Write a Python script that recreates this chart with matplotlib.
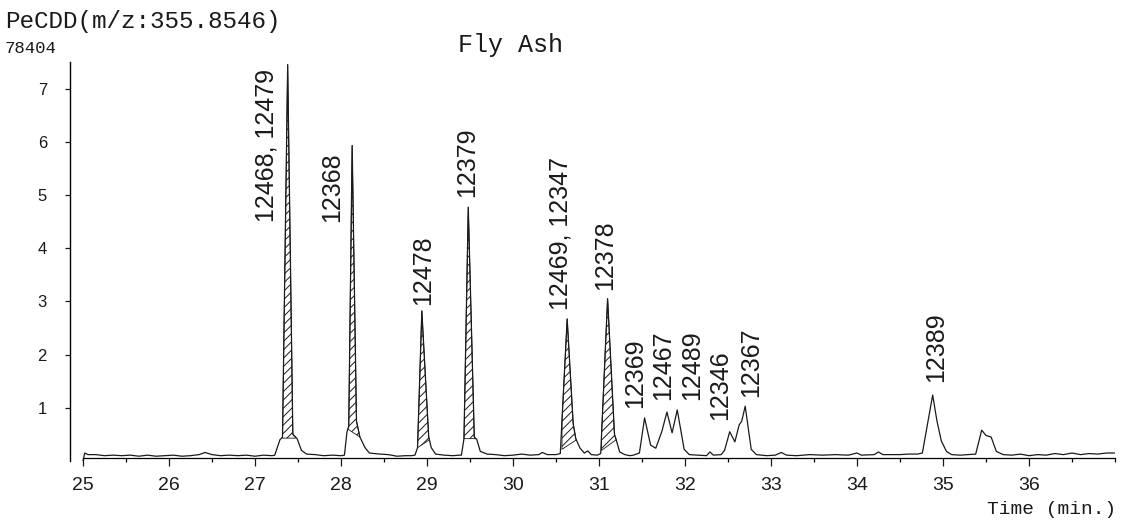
import numpy as np
import matplotlib
matplotlib.use("Agg")
import matplotlib.pyplot as plt
from matplotlib.ticker import MultipleLocator

tempo = [25.00, 25.02, 25.06, 25.15, 25.25, 25.35, 25.45, 25.55, 25.65, 25.75,
         25.85, 25.95, 26.05, 26.15, 26.25, 26.35, 26.42, 26.50, 26.60, 26.70,
         26.80, 26.90, 27.00, 27.10, 27.20,
         27.23, 27.29, 27.32, 27.38, 27.44, 27.49, 27.54, 27.60, 27.70, 27.80,
         27.90, 28.00,
         28.04, 28.07, 28.09, 28.13, 28.18, 28.22, 28.28, 28.33, 28.45, 28.55,
         28.65, 28.75, 28.82,
         28.86, 28.89, 28.94, 29.02, 29.05, 29.10, 29.20, 29.30, 29.38,
         29.40, 29.43, 29.48, 29.55, 29.58, 29.62, 29.70, 29.80, 29.90, 30.00,
         30.10, 30.20, 30.30, 30.34, 30.40, 30.50,
         30.55, 30.63, 30.70, 30.73, 30.78, 30.83, 30.87, 30.91, 30.98,
         31.02, 31.10, 31.18, 31.20, 31.24, 31.30, 31.36, 31.40,
         31.47, 31.53, 31.60, 31.66, 31.73, 31.79, 31.85, 31.91, 31.99, 32.05,
         32.15, 32.25, 32.29, 32.33, 32.42,
         32.46, 32.52, 32.58, 32.63, 32.66, 32.70, 32.77, 32.83,
         32.95, 33.05, 33.12, 33.18, 33.30, 33.45, 33.60, 33.75, 33.90, 34.00,
         34.05, 34.20, 34.25, 34.30, 34.40, 34.50, 34.60, 34.70,
         34.76, 34.82, 34.88, 34.93, 34.98, 35.04, 35.10, 35.20, 35.30,
         35.38, 35.45, 35.50, 35.56, 35.62, 35.70, 35.80, 35.90, 36.00, 36.10,
         36.20, 36.30, 36.40, 36.50, 36.60, 36.70, 36.80, 36.90, 37.00]
intensidade = [0.00, 0.15, 0.12, 0.12, 0.10, 0.11, 0.10, 0.11, 0.09, 0.11,
               0.09, 0.10, 0.11, 0.09, 0.10, 0.12, 0.16, 0.12, 0.10, 0.11,
               0.10, 0.11, 0.09, 0.11, 0.10,
               0.11, 0.40, 0.45, 7.45, 0.50, 0.42, 0.20, 0.13, 0.12, 0.10,
               0.11, 0.10,
               0.11, 0.55, 0.65, 5.93, 0.75, 0.45, 0.25, 0.15, 0.13, 0.12,
               0.09, 0.10, 0.10,
               0.11, 0.25, 2.82, 0.45, 0.25, 0.13, 0.11, 0.10, 0.11,
               0.11, 0.42, 4.77, 0.45, 0.40, 0.18, 0.13, 0.12, 0.10, 0.11,
               0.13, 0.11, 0.12, 0.16, 0.12, 0.12,
               0.14, 2.67, 0.70, 0.42, 0.24, 0.15, 0.19, 0.12, 0.11,
               0.14, 3.05, 0.50, 0.40, 0.17, 0.12, 0.10, 0.11,
               0.15, 0.81, 0.30, 0.24, 0.55, 0.92, 0.53, 0.96, 0.22, 0.12,
               0.11, 0.10, 0.17, 0.11, 0.12,
               0.20, 0.55, 0.36, 0.68, 0.75, 1.03, 0.22, 0.12,
               0.10, 0.11, 0.16, 0.11, 0.10, 0.12, 0.11, 0.12, 0.11, 0.15,
               0.11, 0.12, 0.17, 0.12, 0.12, 0.12, 0.13, 0.13,
               0.15, 0.70, 1.24, 0.75, 0.38, 0.18, 0.12, 0.11, 0.12,
               0.13, 0.58, 0.48, 0.45, 0.18, 0.12, 0.11, 0.13, 0.10, 0.12,
               0.11, 0.14, 0.12, 0.15, 0.12, 0.14, 0.13, 0.15, 0.15]

# isomeros identificados
nomes_picos = ["12468, 12479", "12368", "12478", "12379", "12469, 12347",
               "12378", "12369", "12467", "12489", "12346", "12367", "12389"]

# areas integradas (hachuradas): inicio, fim, nivel inicial, nivel final
area_inicio = [27.32, 28.08, 28.89, 29.43, 30.57, 31.03]
area_fim = [27.47, 28.22, 29.03, 29.57, 30.74, 31.20]
area_nivel_ini = [0.43, 0.60, 0.25, 0.42, 0.22, 0.20]
area_nivel_fim = [0.43, 0.45, 0.40, 0.42, 0.40, 0.40]

minutos = [25, 26, 27, 28, 29, 30, 31, 32, 33, 34, 35, 36]
escala_y = [1, 2, 3, 4, 5, 6, 7]

# --- posicoes dos rotulos (layout) ---
rotulo_x = [27.13, 27.90, 28.95, 29.47, 30.55, 31.07, 31.42, 31.74, 32.08,
            32.41, 32.77, 34.92]
rotulo_y = [4.49, 4.49, 2.93, 4.96, 2.84, 3.21, 1.00, 1.15, 1.15, 0.77,
            1.20, 1.49]

plt.rcParams['hatch.linewidth'] = 0.7
cor = '#1a1a1a'
fonte_estreita = ['Liberation Sans Narrow', 'Liberation Sans', 'DejaVu Sans']
fonte_mono = ['Liberation Mono', 'DejaVu Sans Mono']

fig = plt.figure(figsize=(11.26, 5.23), dpi=100)
ax = fig.add_axes([70 / 1126, 62 / 523, 1045 / 1126, 399 / 523])

ax.plot(tempo, intensidade, color=cor, linewidth=0.9)

# Areas hachuradas dos picos integrados
t_arr = np.array(tempo)
for t0, t1, n0, n1 in zip(area_inicio, area_fim, area_nivel_ini, area_nivel_fim):
    xs = np.concatenate(([t0], t_arr[(t_arr > t0) & (t_arr < t1)], [t1]))
    topo = np.interp(xs, tempo, intensidade)
    base = np.interp(xs, [t0, t1], [n0, n1])
    ax.fill_between(xs, base, topo, where=topo >= base, interpolate=True,
                    facecolor='none', edgecolor=cor, hatch='////', linewidth=0.6)

for nome, x, y in zip(nomes_picos, rotulo_x, rotulo_y):
    ax.text(x, y, nome, rotation=90, ha='center', va='bottom', fontsize=18,
            family=['Liberation Sans', 'DejaVu Sans'], color=cor)

ax.set_xlim(24.849, 37.0)
ax.set_ylim(0, 7.5)

for lado in ['top', 'right']:
    ax.spines[lado].set_visible(False)
ax.spines['bottom'].set_position(('data', 0.06))
ax.spines['bottom'].set_bounds(25.0, 37.0)
ax.spines['left'].set_linewidth(1.0)
ax.spines['bottom'].set_linewidth(0.9)

ax.set_xticks(minutos)
ax.set_xticklabels([str(m) for m in minutos], family=fonte_estreita, fontsize=14)
ax.xaxis.set_minor_locator(MultipleLocator(0.5))
ax.tick_params(axis='x', which='major', direction='out', length=6, width=0.9,
               pad=8, colors=cor)
ax.tick_params(axis='x', which='minor', direction='out', length=3, width=0.9)

ax.set_yticks(escala_y)
ax.set_yticklabels([str(v) for v in escala_y], family=fonte_estreita, fontsize=12)
ax.tick_params(axis='y', direction='out', length=3.6, width=0.9, pad=13,
               colors=cor)

# Textos do cabecalho
fig.text(5 / 1126, 1 - 28 / 523, "PeCDD(m/z:355.8546)", family=fonte_mono,
         fontsize=17.5, va='baseline', ha='left', color=cor)
fig.text(5 / 1126, 1 - 53 / 523, "78404", family=fonte_mono,
         fontsize=12.5, va='baseline', ha='left', color=cor)
fig.text(511 / 1126, 1 - 52 / 523, "Fly Ash", family=fonte_mono,
         fontsize=18, va='baseline', ha='center', color=cor)
fig.text(1116 / 1126, 1 - 514 / 523, "Time (min.)", family=fonte_mono,
         fontsize=14, va='baseline', ha='right', color=cor)

fig.savefig("out.png", dpi=100)
